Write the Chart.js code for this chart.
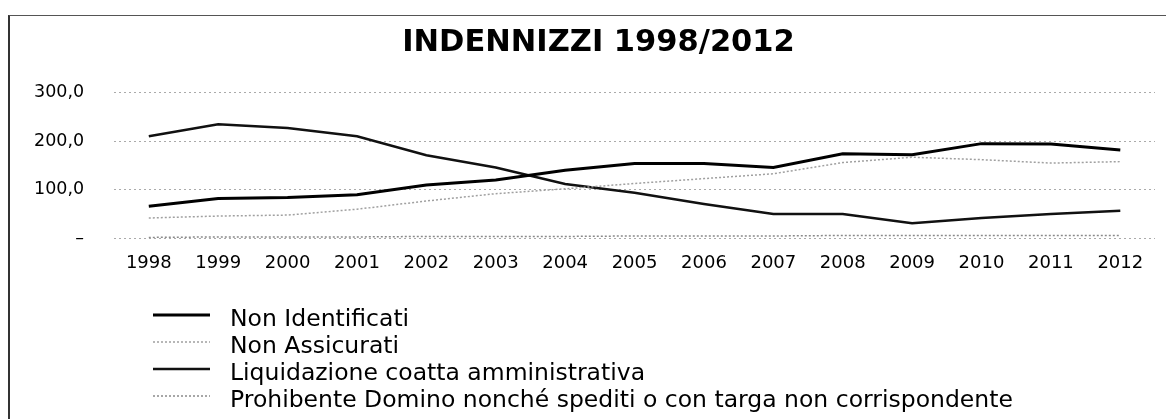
<!DOCTYPE html>
<html>
<head>
<meta charset="utf-8">
<script src="https://cdn.jsdelivr.net/npm/chart.js@4.4.0/dist/chart.umd.min.js"></script>
<style>
    html, body { margin: 0; padding: 0; background: #fff; }
    #wrap { position: relative; width: 1166px; height: 419px; }
    #frame {
        position: absolute; left: 8px; top: 15px; right: 0; bottom: 0;
        border-top: 1px solid #555; border-left: 2px solid #333;
    }
    canvas { position: absolute; left: 0; top: 0; }
</style>
</head>
<body>
<div id="wrap">
    <div id="frame"></div>
    <canvas id="chart" width="1166" height="419"></canvas>
</div>
<script>
// -----------------------------
// Data
// -----------------------------
const years = ['1998', '1999', '2000', '2001', '2002', '2003', '2004', '2005',
    '2006', '2007', '2008', '2009', '2010', '2011', '2012'];

const nonIdentificati = [66, 82, 84, 90, 110, 120, 140, 154, 154, 146, 174, 172, 195, 194, 182];
const nonAssicurati = [42, 46, 48, 60, 77, 92, 102, 113, 123, 133, 156, 167, 162, 155, 158];
const liquidazione = [210, 235, 227, 210, 171, 146, 112, 94, 71, 50, 50, 31, 42, 50, 57];
const prohibente = [2, 3, 3, 3, 4, 4, 4, 5, 5, 5, 6, 6, 6, 6, 6];

const yTicks = [0, 100, 200, 300];

const FONT = '"DejaVu Sans", sans-serif';

// -----------------------------
// Vertical legend drawn under the plot
// -----------------------------
const stackedLegend = {
    id: 'stackedLegend',
    afterLayout(chart) {
        // title sits a little right of the plot centre in the original
        chart.titleBlock.left += 19;
        chart.titleBlock.right += 19;
    },
    afterDraw(chart) {
        const ctx = chart.ctx;
        const x0 = 153, x1 = 210, textX = 230;
        const rowTop = 317, rowGap = 27;
        ctx.save();
        chart.data.datasets.forEach((ds, i) => {
            const y = rowTop + i * rowGap;
            ctx.beginPath();
            ctx.strokeStyle = ds.borderColor;
            ctx.lineWidth = ds.borderWidth;
            ctx.setLineDash(ds.borderDash || []);
            ctx.moveTo(x0, y - 2);
            ctx.lineTo(x1, y - 2);
            ctx.stroke();
            ctx.setLineDash([]);
            ctx.fillStyle = '#000';
            ctx.font = '23.5px ' + FONT;
            ctx.textBaseline = 'alphabetic';
            ctx.fillText(ds.label, textX, y + 9);
        });
        ctx.restore();
    }
};

new Chart(document.getElementById('chart'), {
    type: 'line',
    data: {
        labels: years,
        datasets: [
            { label: 'Non Identificati', data: nonIdentificati, borderColor: '#000', borderWidth: 3 },
            { label: 'Non Assicurati', data: nonAssicurati, borderColor: '#a0a0a0', borderWidth: 1.5, borderDash: [2, 2] },
            { label: 'Liquidazione coatta amministrativa', data: liquidazione, borderColor: '#111', borderWidth: 2.5 },
            { label: 'Prohibente Domino nonché spediti o con targa non corrispondente', data: prohibente, borderColor: '#8a8a8a', borderWidth: 1.5, borderDash: [2, 2] }
        ].map(ds => ({ ...ds, pointRadius: 0, tension: 0, fill: false }))
    },
    options: {
        responsive: false,
        animation: false,
        layout: { padding: { left: 4, right: 11, top: 0, bottom: 139 } },
        plugins: {
            legend: { display: false },
            tooltip: { enabled: false },
            title: {
                display: true,
                text: 'INDENNIZZI 1998/2012',
                color: '#000',
                font: { family: FONT, size: 30.5, weight: 'bold' },
                padding: { top: 25, bottom: 31 }
            }
        },
        scales: {
            x: {
                offset: true,
                grid: { display: false },
                border: { display: false },
                ticks: { color: '#000', font: { family: FONT, size: 18 }, padding: 6, maxRotation: 0 }
            },
            y: {
                min: 0,
                max: 300,
                afterBuildTicks: axis => { axis.ticks = yTicks.map(v => ({ value: v })); },
                border: { display: false, dash: [2, 3] },
                grid: {
                    color: '#aaaaaa',
                    lineWidth: 1,
                    drawTicks: false
                },
                ticks: {
                    color: '#000',
                    padding: 30,
                    font: { family: FONT, size: 17.5 },
                    callback: v => v === 0 ? '–' : v.toFixed(1).replace('.', ',')
                }
            }
        }
    },
    plugins: [stackedLegend]
});
</script>
</body>
</html>
